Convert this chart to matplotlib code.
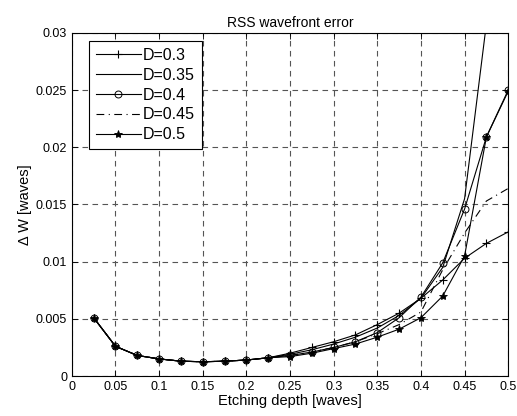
import matplotlib
matplotlib.use("Agg")
import matplotlib.pyplot as plt
import numpy as np

plt.rcParams["font.family"] = ["Liberation Sans", "DejaVu Sans"]

depth = [0.025, 0.05, 0.075, 0.1, 0.125, 0.15, 0.175, 0.2, 0.225, 0.25,
         0.275, 0.3, 0.325, 0.35, 0.375, 0.4, 0.425, 0.45, 0.475, 0.5]
low = [0.0051, 0.0026, 0.0018, 0.0015, 0.0013, 0.00125, 0.0013, 0.0014, 0.0016]

d030 = low + [0.0020, 0.0025, 0.0030, 0.0036, 0.0045, 0.0055, 0.0068, 0.0084, 0.0103, 0.0116, 0.0126]
d035 = low + [0.0019, 0.0023, 0.0028, 0.0034, 0.0042, 0.0053, 0.0068, 0.0095, 0.0155, 0.0308, 0.0500]
d040 = low + [0.0018, 0.0021, 0.0025, 0.0030, 0.0038, 0.0051, 0.0069, 0.0099, 0.0146, 0.0209, 0.0250]
d045 = low + [0.0018, 0.0021, 0.0025, 0.0030, 0.0037, 0.0045, 0.0056, 0.0093, 0.0125, 0.0153, 0.0164]
d050 = low + [0.0017, 0.0020, 0.0024, 0.0028, 0.0034, 0.0041, 0.0051, 0.0070, 0.0105, 0.0209, 0.0249]

series = [
    ("D=0.3", d030, dict(ls="-", marker="+", ms=6, mew=0.8)),
    ("D=0.35", d035, dict(ls="-")),
    ("D=0.4", d040, dict(ls="-", marker="o", ms=5, mfc="none", mew=0.7)),
    ("D=0.45", d045, dict(ls=(0, (7, 4, 1, 4)))),
    ("D=0.5", d050, dict(ls="-", marker="*", ms=6, mew=0.6)),
]

fig = plt.figure(figsize=(5.17, 4.16), dpi=100)
ax = fig.add_axes([0.139, 0.096, 0.844, 0.825])

for label, vals, style in series:
    ax.plot(depth, vals, color="black", lw=0.8, label=label, **style)

ax.set_xlim(0, 0.5)
ax.set_ylim(0, 0.03)
ax.set_xticks(np.arange(0, 0.501, 0.05))
ax.set_yticks(np.arange(0, 0.0301, 0.005))
ax.set_xticklabels(["0", "0.05", "0.1", "0.15", "0.2", "0.25", "0.3",
                    "0.35", "0.4", "0.45", "0.5"])
ax.set_yticklabels(["0", "0.005", "0.01", "0.015", "0.02", "0.025", "0.03"])
ax.tick_params(direction="in", top=True, right=True, labelsize=9, length=4, width=0.6)
ax.grid(True, color="#555555", ls=(0, (5, 4)), lw=0.8)
for s in ax.spines.values():
    s.set_linewidth(0.8)

ax.set_title("RSS wavefront error", fontsize=10, pad=4)
ax.set_xlabel("Etching depth [waves]", fontsize=10.5, labelpad=1)
ax.set_ylabel("Δ W [waves]", fontsize=10.5, labelpad=3)

leg = ax.legend(loc="upper left", bbox_to_anchor=(0.039, 0.977), borderaxespad=0,
                fontsize=11.5, fancybox=False, framealpha=1, edgecolor="black",
                handlelength=2.8, handletextpad=0.1, labelspacing=0.3, borderpad=0.45)
leg.get_frame().set_linewidth(0.8)

fig.savefig("out.png", dpi=100)
